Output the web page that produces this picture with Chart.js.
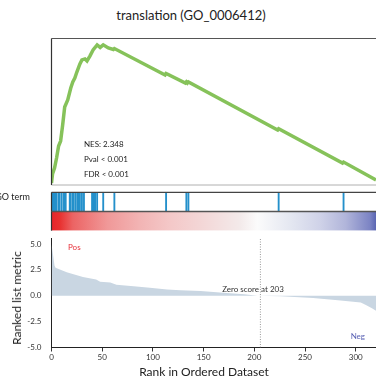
<!DOCTYPE html>
<html>
<head>
<meta charset="utf-8">
<script src="https://cdn.jsdelivr.net/npm/chart.js@4.4.1/dist/chart.umd.min.js"></script>
<style>
  html, body { margin:0; padding:0; background:#fff; }
  #wrap { position:relative; width:376px; height:378px; overflow:hidden; font-family:Lato, "Open Sans", sans-serif; color:#222; }
  canvas { position:absolute; left:0; }
  .t { position:absolute; white-space:nowrap; line-height:1; }
</style>
</head>
<body>
<div id="wrap">
  <canvas id="cES" width="376" height="160" style="top:30px"></canvas>
  <canvas id="cHit" width="376" height="42" style="top:190px"></canvas>
  <canvas id="cMet" width="376" height="154" style="top:224px"></canvas>
  <div class="t" id="title" style="left:191px; top:15px; font-size:13px; transform:translate(-50%,-50%);">translation (GO_0006412)</div>
  <div class="t" style="left:84px; top:144px; font-size:8px; transform:translateY(-50%);">NES: 2.348</div>
  <div class="t" style="left:84px; top:158.5px; font-size:8px; transform:translateY(-50%);">Pval &lt; 0.001</div>
  <div class="t" style="left:84px; top:174px; font-size:8px; transform:translateY(-50%);">FDR &lt; 0.001</div>
  <div class="t" style="left:30px; top:196px; font-size:9px; transform:translate(-100%,-50%);">GO term</div>
  <div class="t" style="left:68px; top:247px; font-size:8px; color:#e8303a; transform:translateY(-50%);">Pos</div>
  <div class="t" style="left:365px; top:336px; font-size:8px; color:#5a62b4; transform:translate(-100%,-50%);">Neg</div>
  <div class="t" id="zeroLbl" style="left:253px; top:289px; font-size:8px; color:#333; transform:translate(-50%,-50%);">Zero score at 203</div>
  <div class="t" style="left:204px; top:372px; font-size:12px; transform:translate(-50%,-50%);">Rank in Ordered Dataset</div>
  <div class="t" style="left:17px; top:298px; font-size:12px; transform:translate(-50%,-50%) rotate(-90deg);">Ranked list metric</div>
</div>
<script>
// ---------- data ----------
const rankMax = 320;
const rankTicks = [0, 50, 100, 150, 200, 250, 300];
const metricTicks = [-5, -2.5, 0, 2.5, 5];
const esRanks  = [0,1,3,5,7,9,11,13,16,19,21,23,25,28,30,33,35,38,41,45,48,51,56,61,62,112,113,132,133,134,135,223,224,287,288,320];
const esValues = [-0.010,0.037,0.068,0.120,0.182,0.208,0.291,0.385,0.421,0.483,0.515,0.535,0.566,0.608,0.629,0.634,0.624,0.650,0.681,0.707,0.694,0.707,0.691,0.683,0.688,0.551,0.559,0.509,0.515,0.509,0.515,0.265,0.272,0.094,0.099,0.006];
const hitRanks = [1,2,3,4,5,7,8,10,12,13,14,18,19,21,22,24,26,27,28,30,32,40,41,42,43,45,51,62,113,133,135,224,288];
const metricRanks  = [0,1,2,3,4,15,31,44,48,58,64,81,97,114,127,147,166,190,203,226,258,285,305,310,316,320];
const metricValues = [5.0,4.3,3.6,2.9,2.7,2.27,1.81,1.58,1.36,1.28,1.06,0.91,0.76,0.61,0.52,0.46,0.31,0.15,0.0,-0.06,-0.23,-0.45,-0.66,-0.9,-1.2,-1.44];
const zeroLineRank = 206;

// ---------- styles ----------
const colorStops = [[0,'#e6242a'],[8,'#e8302f'],[21,'#ec6464'],[55,'#f09898'],[87,'#f2b4b4'],[117,'#f4c8c8'],[147,'#f3d6d6'],[186,'#f3eaea'],[203,'#fbfbfb'],[236,'#e4e7f1'],[265,'#cfd2e8'],[290,'#b1b5da'],[314,'#7c84c4'],[320,'#5a66b3']];
const FONT = 'Lato, "Open Sans", sans-serif';
Chart.defaults.font.family = FONT;
Chart.defaults.animation = false;
Chart.defaults.responsive = false;
Chart.defaults.devicePixelRatio = 1;
Chart.defaults.plugins.legend.display = false;
Chart.defaults.plugins.tooltip.enabled = false;

function framePlugin(cfg) {
  return {
    id: 'frame',
    afterDatasetsDraw(chart) {
      const a = chart.chartArea, c = chart.ctx;
      c.save();
      const seg = (x1,y1,x2,y2,col,w) => { c.strokeStyle=col; c.lineWidth=w; c.beginPath(); c.moveTo(x1,y1); c.lineTo(x2,y2); c.stroke(); };
      if (cfg.top) seg(a.left, a.top, a.right, a.top, cfg.top, 1.2);
      if (cfg.bottom) seg(a.left, a.bottom, a.right, a.bottom, cfg.bottom, 1);
      if (cfg.left) seg(a.left, a.top, a.left, a.bottom, cfg.left, 1.2);
      if (cfg.midY !== undefined) { const y = chart.scales.y.getPixelForValue(cfg.midY); seg(a.left, y, a.right, y, cfg.mid, 1.3); }
      c.restore();
    }
  };
}

// ---------- ES panel ----------
new Chart(document.getElementById('cES'), {
  type: 'line',
  data: { datasets: [{
    data: esRanks.map((r,i)=>({x:r, y:esValues[i]})),
    borderColor: '#86c25a', borderWidth: 3.5, pointRadius: 0, tension: 0, fill: false,
    borderJoinStyle: 'miter'
  }]},
  options: {
    layout: { padding: { left: 51.5, right: 0, top: 8.5, bottom: 5 } },
    scales: {
      x: { type: 'linear', min: 0, max: rankMax, display: false },
      y: { type: 'linear', min: -0.02, max: 0.74, display: false }
    }
  },
  plugins: [framePlugin({ top:'#555', left:'#333', bottom:'#b0b0b0' })]
});

// ---------- hits + colour bar ----------
new Chart(document.getElementById('cHit'), {
  type: 'bar',
  data: { datasets: [
    {
      type: 'line',
      data: [{x:0, y:1}, {x:rankMax, y:1}],
      borderWidth: 0, borderColor: 'rgba(0,0,0,0)', pointRadius: 0, fill: 'origin',
      backgroundColor: (ctx) => {
        const ch = ctx.chart; if (!ch.chartArea) return '#fff';
        const xs = ch.scales.x;
        const g = ch.ctx.createLinearGradient(xs.getPixelForValue(0), 0, xs.getPixelForValue(rankMax), 0);
        colorStops.forEach(([r,c]) => g.addColorStop(r/rankMax, c));
        return g;
      }
    },
    {
      type: 'bar',
      data: hitRanks.map(r => ({x:r, y:[1,2]})),
      backgroundColor: '#2490cb', barThickness: 1.2, grouped: false, borderWidth: 0
    }
  ]},
  options: {
    layout: { padding: { left: 51.5, right: 0, top: 2.3, bottom: 1.3 } },
    scales: {
      x: { type: 'linear', min: 0, max: rankMax, display: false, offset: false },
      y: { type: 'linear', min: 0, max: 2, display: false }
    }
  },
  plugins: [framePlugin({ top:'#444', left:'#333', midY:1, mid:'#555' })]
});

// ---------- ranked metric panel ----------
new Chart(document.getElementById('cMet'), {
  type: 'line',
  data: { datasets: [
    {
      data: metricRanks.map((r,i)=>({x:r, y:metricValues[i]})),
      borderWidth: 0, borderColor: 'rgba(0,0,0,0)', backgroundColor: '#c9d6e2',
      fill: 'origin', pointRadius: 0, tension: 0
    },
    {
      data: [{x:zeroLineRank, y:-5}, {x:zeroLineRank, y:5.5}],
      borderColor: '#9a9a9a', borderWidth: 1, borderDash: [1,1.5], pointRadius: 0, fill: false
    }
  ]},
  options: {
    layout: { padding: { left: 0, right: 0, top: 7, bottom: 0 } },
    scales: {
      x: {
        type: 'linear', min: 0, max: rankMax,
        afterBuildTicks: s => { s.ticks = rankTicks.map(v => ({value: v})); },
        afterFit: s => { s.height = 30.5; },
        ticks: { font: { size: 8, family: FONT }, color: '#333', padding: 1, maxRotation: 0 },
        grid: { display: true, drawOnChartArea: false, drawTicks: true, tickLength: 4, color: '#333' },
        border: { display: true, color: '#222', width: 1 }
      },
      y: {
        type: 'linear', min: -5, max: 5.5,
        afterBuildTicks: s => { s.ticks = metricTicks.map(v => ({value: v})); },
        afterFit: s => { s.width = 51.5; },
        ticks: { font: { size: 8, family: FONT }, color: '#333', padding: 10, callback: v => Number(v).toFixed(1) },
        grid: { display: false, drawTicks: false },
        border: { display: true, color: '#222', width: 1 }
      }
    }
  }
});
</script>
</body>
</html>
